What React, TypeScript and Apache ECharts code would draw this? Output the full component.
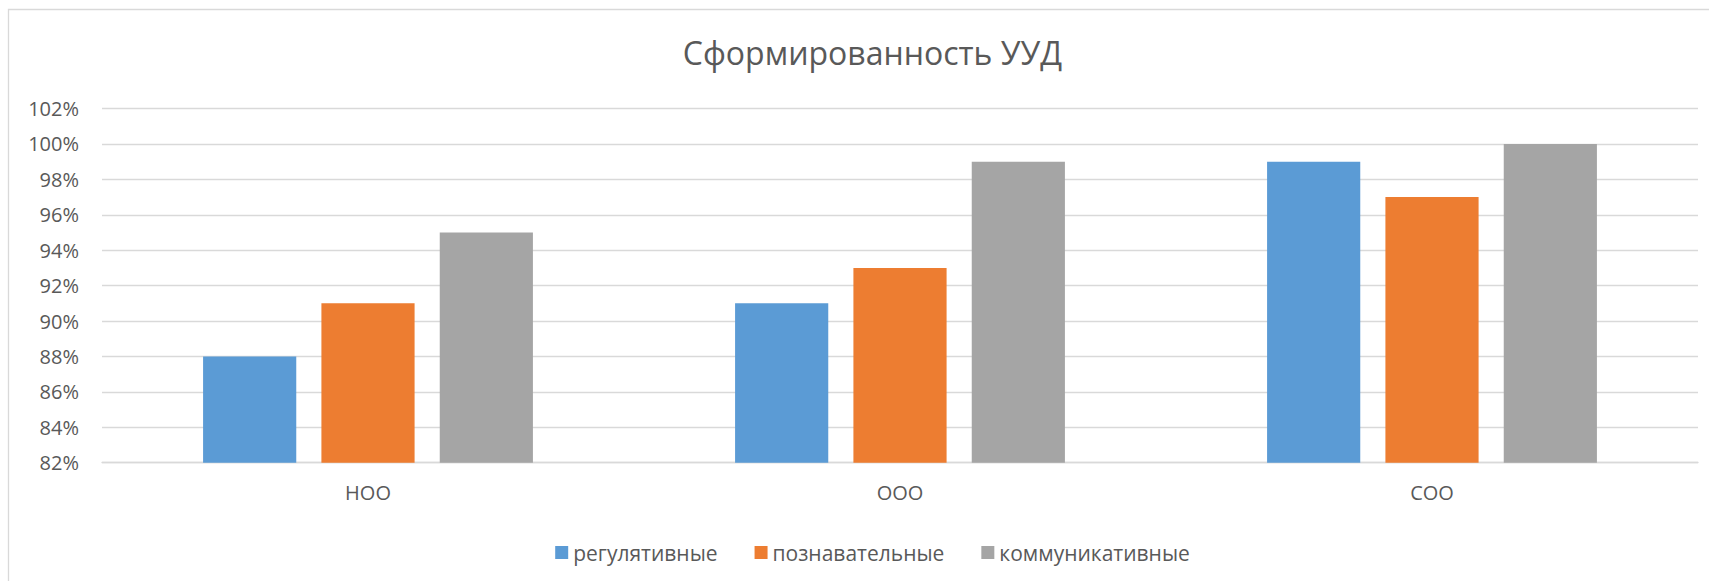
import React, { useEffect, useRef } from "react";
import * as echarts from "echarts";

const title = "Сформированность УУД";
const categories = ["НОО", "ООО", "СОО"];
const seriesNames = ["регулятивные", "познавательные", "коммуникативные"];
const regulative = [88, 91, 99];
const cognitive = [91, 93, 97];
const communicative = [95, 99, 100];
const colors = ["#5B9BD5", "#ED7D31", "#A5A5A5"];
const yMin = 82;
const yMax = 102;
const yStep = 2;

const FONT = "'Open Sans', sans-serif";
const TEXT = "#595959";

export default function App() {
  const ref = useRef<HTMLDivElement>(null);
  useEffect(() => {
    document.documentElement.style.overflow = "hidden";
    document.body.style.overflow = "hidden";
    const chart = echarts.init(ref.current!, null, { renderer: "svg" });
    const values = [regulative, cognitive, communicative];
    chart.setOption({
      animation: false,
      backgroundColor: "#ffffff",
      color: colors,
      textStyle: { fontFamily: FONT },
      title: {
        text: title,
        left: "center",
        top: 31,
        textStyle: { fontFamily: FONT, fontSize: 32, fontWeight: "normal", color: TEXT },
      },
      graphic: [
        {
          type: "rect",
          shape: { x: 8.5, y: 9.5, width: 1800, height: 700 },
          style: { fill: "none", stroke: "#D9D9D9", lineWidth: 1.3 },
          silent: true,
          z: -1,
        },
      ],
      legend: {
        data: seriesNames,
        left: "center",
        top: 537,
        itemWidth: 13,
        itemHeight: 13,
        itemGap: 37,
        icon: "rect",
        textStyle: { fontFamily: FONT, fontSize: 21, color: TEXT, padding: [0, 0, 0, 0] },
      },
      grid: { left: 102, right: 47, top: 108.5, bottom: 118.3, containLabel: false },
      xAxis: {
        type: "category",
        data: categories,
        axisLine: { show: true, lineStyle: { color: "#D9D9D9", width: 1.3 } },
        axisTick: { show: false },
        axisLabel: { fontFamily: FONT, fontSize: 20, color: TEXT, margin: 20 },
      },
      yAxis: {
        type: "value",
        min: yMin,
        max: yMax,
        interval: yStep,
        axisLine: { show: false },
        axisTick: { show: false },
        splitLine: { lineStyle: { color: "#D9D9D9", width: 1.3 } },
        axisLabel: { fontFamily: FONT, fontSize: 20, color: TEXT, margin: 23, formatter: "{value}%" },
      },
      series: seriesNames.map((name, i) => ({
        name,
        type: "bar",
        data: values[i],
        barCategoryGap: "38%",
        barGap: "27%",
        itemStyle: { color: colors[i] },
      })),
    });
    return () => chart.dispose();
  }, []);
  return (
    <div
      ref={ref}
      style={{ position: "absolute", left: 0, top: 0, width: 1745, height: 581 }}
    />
  );
}
